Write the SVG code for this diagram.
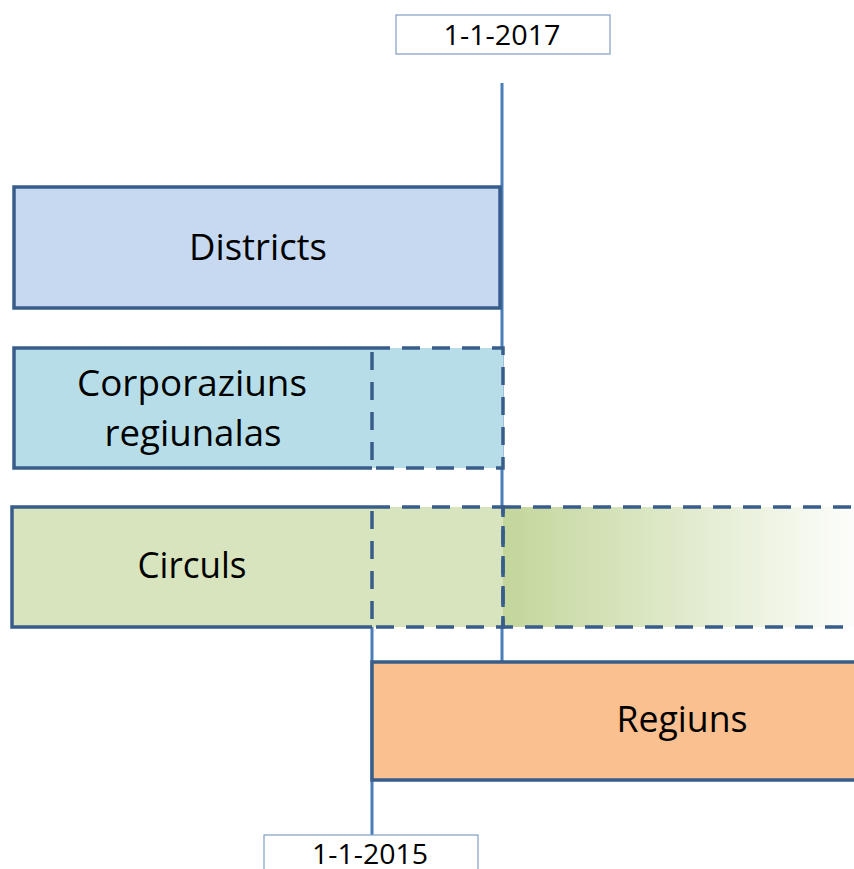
<svg xmlns="http://www.w3.org/2000/svg" width="854" height="869" viewBox="0 0 854 869">
<style>
.lbl{font-family:"Open Sans","Liberation Sans",sans-serif;fill:#000;text-anchor:middle}
.big{font-size:36px}
.date{font-size:28px}
.solid{stroke:#385D8A;stroke-width:3.5;stroke-linejoin:miter}
.dash{stroke:#385D8A;stroke-width:3.5;stroke-dasharray:18 12}
.time{stroke:#4A7EBB;stroke-width:3;fill:none}
.datebox{fill:#fff;stroke:#7F9DC5;stroke-width:1.2}
</style>
<defs>
<linearGradient id="fade" gradientUnits="userSpaceOnUse" x1="503" y1="0" x2="870" y2="0">
<stop offset="0" stop-color="#C3D69B"/>
<stop offset="1" stop-color="#FFFFFF"/>
</linearGradient>
</defs>
<g id="connectors">
<line class="time" x1="502" y1="83" x2="502" y2="663"/>
<line class="time" x1="372" y1="507" x2="372" y2="835"/>
</g>
<g id="districts">
<rect class="solid" x="14" y="187" width="486" height="121" fill="#C6D9F1"/>
<text class="lbl big" x="258" y="260" textLength="138" lengthAdjust="spacingAndGlyphs">Districts</text>
</g>
<g id="corporaziuns">
<rect x="14" y="348" width="489" height="120" fill="#B7DEE8"/>
<path class="solid" d="M372,348 H14 V468 H372" fill="none"/>
<rect class="dash" x="372" y="348" width="131" height="120" fill="none"/>
<text class="lbl big" x="192" y="396" textLength="230" lengthAdjust="spacingAndGlyphs">Corporaziuns</text>
<text class="lbl big" x="193" y="446" textLength="177" lengthAdjust="spacingAndGlyphs">regiunalas</text>
</g>
<g id="circuls">
<rect x="12" y="507" width="491" height="120" fill="#D7E4BD"/>
<rect x="503" y="507" width="380" height="120" fill="url(#fade)"/>
<path class="solid" d="M372,507 H12 V627 H372" fill="none"/>
<rect class="dash" x="372" y="507" width="131" height="120" fill="none"/>
<rect class="dash" x="503" y="507" width="380" height="120" fill="none"/>
<text class="lbl big" x="192" y="578" textLength="109" lengthAdjust="spacingAndGlyphs">Circuls</text>
</g>
<g id="regiuns">
<rect class="solid" x="372" y="662" width="500" height="118" fill="#FAC090"/>
<text class="lbl big" x="682" y="732" textLength="131" lengthAdjust="spacingAndGlyphs">Regiuns</text>
</g>
<g id="date2017">
<rect class="datebox" x="396" y="15" width="214" height="39"/>
<text class="lbl date" x="502" y="45" textLength="117" lengthAdjust="spacingAndGlyphs">1-1-2017</text>
</g>
<g id="date2015">
<rect class="datebox" x="264" y="835" width="214" height="50"/>
<text class="lbl date" x="370" y="864" textLength="116" lengthAdjust="spacingAndGlyphs">1-1-2015</text>
</g>
</svg>
